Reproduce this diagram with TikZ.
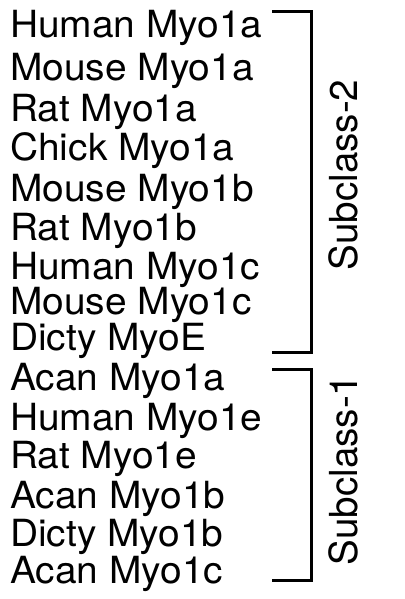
\documentclass[tikz,border=0pt]{standalone}
\usepackage{fontspec}
\setmainfont{TeX Gyre Heros}
\begin{document}
\begin{tikzpicture}[x=1pt,y=-1pt,
  species/.style={anchor=base west,inner sep=0pt,xscale=1.04,font=\fontsize{37.4}{40}\selectfont},
  group/.style={anchor=base,inner sep=0pt,rotate=90,font=\fontsize{38.6}{42}\selectfont},
  brace/.style={line width=3pt,line cap=butt,line join=miter}]
\useasboundingbox[fill=white] (0,0) rectangle (404,599);
\node[species] (s1) at (10,37.3) {Human Myo1a};
\node[species] (s2) at (10,81) {Mouse Myo1a};
\node[species] (s3) at (10,121.7) {Rat Myo1a};
\node[species] (s4) at (10,160.7) {Chick Myo1a};
\node[species] (s5) at (10,201) {Mouse Myo1b};
\node[species] (s6) at (10,240) {Rat Myo1b};
\node[species] (s7) at (10,279.3) {Human Myo1c};
\node[species] (s8) at (10,314) {Mouse Myo1c};
\node[species] (s9) at (10,350) {Dicty MyoE};
\node[species] (s10) at (10,390.7) {Acan Myo1a};
\node[species] (s11) at (10,430) {Human Myo1e};
\node[species] (s12) at (10,468.3) {Rat Myo1e};
\node[species] (s13) at (10,508.3) {Acan Myo1b};
\node[species] (s14) at (10,546) {Dicty Myo1b};
\node[species] (s15) at (10,583.3) {Acan Myo1c};
\coordinate (b2a) at (272,11.2);
\coordinate (b2b) at (311,11.2);
\coordinate (b2c) at (311,352.5);
\coordinate (b2d) at (272,352.5);
\coordinate (b1a) at (272,369);
\coordinate (b1b) at (311,369);
\coordinate (b1c) at (311,580);
\coordinate (b1d) at (272,580);
\draw[brace] (b2a) -- (b2b) -- (b2c) -- (b2d);
\draw[brace] (b1a) -- (b1b) -- (b1c) -- (b1d);
\node[group] (g2) at (357,175) {Subclass-2};
\node[group] (g1) at (357,470) {Subclass-1};
\end{tikzpicture}
\end{document}
